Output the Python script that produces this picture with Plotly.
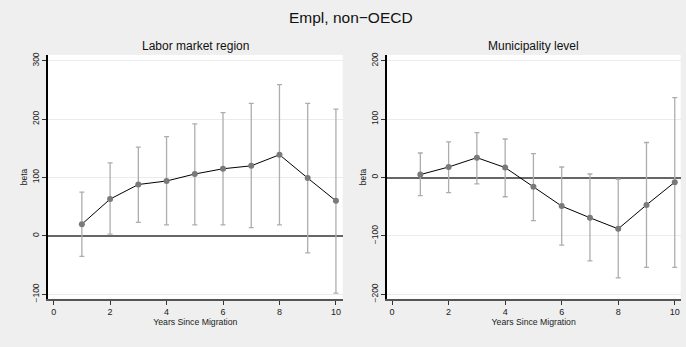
import plotly.graph_objects as go

years = [1, 2, 3, 4, 5, 6, 7, 8, 9, 10]

# Labor market region
lmr_beta = [20, 63, 88, 94, 106, 115, 120, 139, 99, 60]
lmr_upper = [75, 125, 152, 170, 192, 211, 227, 259, 227, 217]
lmr_lower = [-35, 3, 23, 19, 19, 19, 14, 19, -29, -98]

# Municipality level
mun_beta = [5, 18, 34, 17, -16, -49, -69, -88, -47, -8]
mun_upper = [42, 61, 77, 66, 41, 18, 6, -3, 60, 137]
mun_lower = [-31, -26, -11, -33, -74, -116, -143, -172, -154, -154]

left_ticks = [-100, 0, 100, 200, 300]
right_ticks = [-200, -100, 0, 100, 200]
x_ticks = [0, 2, 4, 6, 8, 10]

FONT = "Liberation Sans, Arial, Helvetica, sans-serif"

fig = go.Figure()


def add_series(beta, upper, lower, xa, ya):
    fig.add_trace(go.Scatter(
        x=years, y=beta, xaxis=xa, yaxis=ya, mode="lines+markers",
        line=dict(color="black", width=1),
        marker=dict(color="#7a7a7a", size=6),
        error_y=dict(type="data", symmetric=False,
                     array=[u - b for u, b in zip(upper, beta)],
                     arrayminus=[b - l for b, l in zip(beta, lower)],
                     color="#adadad", thickness=1.3, width=2.5),
        showlegend=False, hoverinfo="x+y",
    ))


add_series(lmr_beta, lmr_upper, lmr_lower, "x", "y")
add_series(mun_beta, mun_upper, mun_lower, "x2", "y2")

ydom = [1 - 302 / 347, 1 - 53 / 347]

xcommon = dict(
    tickvals=x_ticks, ticks="outside", ticklen=4, tickcolor="#333",
    showline=True, linecolor="#555", linewidth=1.5, showgrid=False,
    zeroline=False, tickfont=dict(size=9, color="#222", family=FONT),
    title=dict(text="Years Since Migration", font=dict(size=8.7, color="#222", family=FONT), standoff=2),
)
ycommon = dict(
    ticks="outside", ticklen=4, tickcolor="#333", tickangle=-90,
    showline=True, linecolor="black", linewidth=1.5,
    showgrid=True, gridcolor="#ebebeb", gridwidth=1,
    zeroline=True, zerolinecolor="#666", zerolinewidth=1.5,
    tickfont=dict(size=8.5, color="#222", family=FONT),
    title=dict(text="beta", font=dict(size=8.5, color="#222", family=FONT), standoff=2),
)

fig.update_layout(
    width=686, height=347,
    margin=dict(l=0, r=0, t=0, b=0),
    paper_bgcolor="#efefef", plot_bgcolor="white",
    font=dict(family=FONT),
    xaxis=dict(domain=[48 / 686, 342.7 / 686], range=[-0.2, 10.24], anchor="y", **xcommon),
    yaxis=dict(domain=ydom, range=[-108, 310], tickvals=left_ticks, anchor="x", **ycommon),
    xaxis2=dict(domain=[386.7 / 686, 680.7 / 686], range=[-0.19, 10.21], anchor="y2", **xcommon),
    yaxis2=dict(domain=ydom, range=[-208, 210], tickvals=right_ticks, anchor="x2", **ycommon),
    annotations=[
        dict(text="Empl, non\u2212OECD", x=351 / 686, y=1 - 15 / 347, xref="paper", yref="paper",
             showarrow=False, font=dict(size=15.5, color="#111", family=FONT),
             xanchor="center", yanchor="middle"),
        dict(text="Labor market region", x=195.4 / 686, y=1 - 43.5 / 347, xref="paper", yref="paper",
             showarrow=False, font=dict(size=12, color="#111", family=FONT),
             xanchor="center", yanchor="middle"),
        dict(text="Municipality level", x=533.7 / 686, y=1 - 43.5 / 347, xref="paper", yref="paper",
             showarrow=False, font=dict(size=12, color="#111", family=FONT),
             xanchor="center", yanchor="middle"),
    ],
)

fig.write_html(
    "out.html",
    config={"displayModeBar": False},
    post_script="document.body.style.margin='0px';document.body.style.overflow='hidden';",
)
